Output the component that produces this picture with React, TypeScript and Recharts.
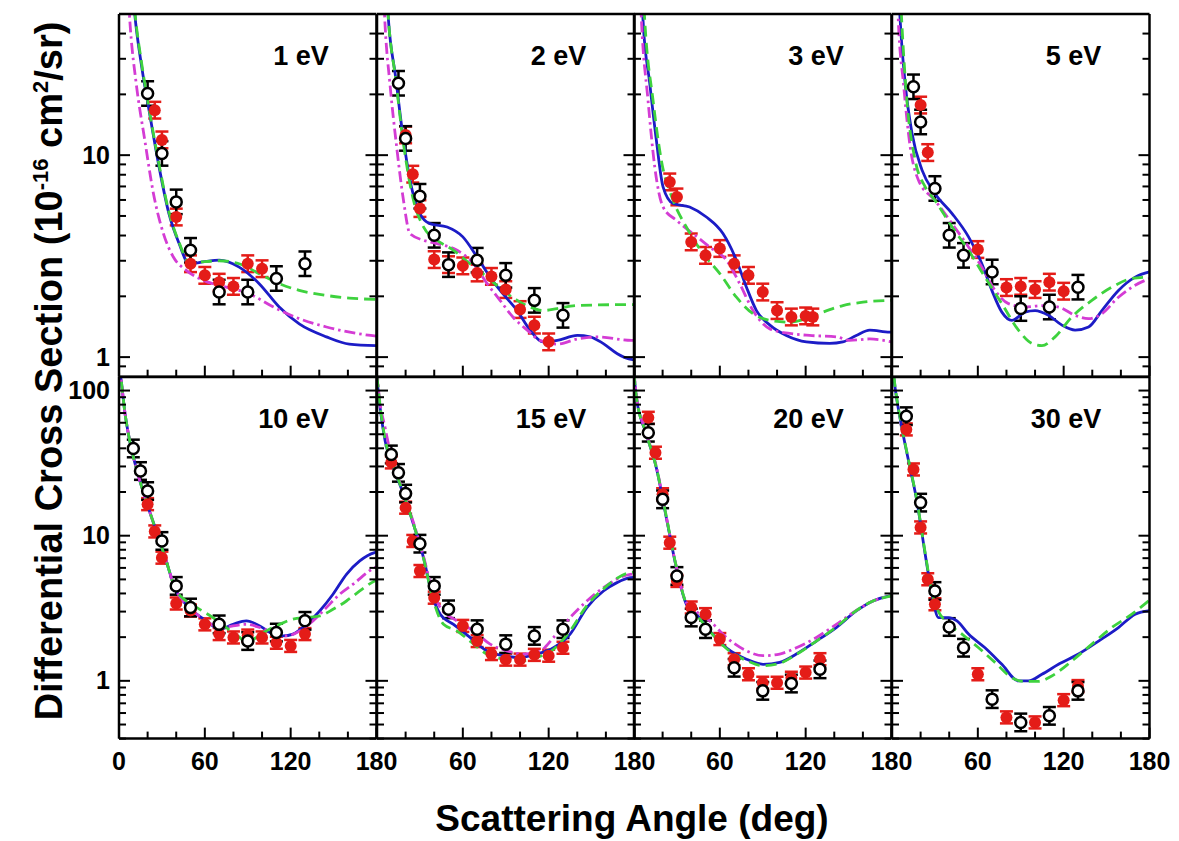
import React from "react"
import { ComposedChart, XAxis, YAxis, Line, Scatter, ErrorBar } from "recharts"

type P = [number, number]

// 1 eV
const blue1: P[] = [[4, 300], [8, 90], [11, 50], [16, 27], [21, 16.7], [28, 8.75], [35, 5.1], [42, 3.65], [49, 2.9], [60, 2.97], [70, 3.02], [84, 2.79], [98, 2.31], [112, 1.77], [126, 1.46], [145, 1.26], [161, 1.16], [180, 1.14]]
const green1: P[] = [[4, 300], [8, 95], [11, 52], [16, 28], [21, 17], [28, 9], [35, 5.2], [42, 3.7], [49, 2.95], [60, 2.97], [70, 3.0], [84, 2.9], [98, 2.59], [112, 2.31], [126, 2.14], [145, 2.02], [161, 1.96], [180, 1.93]]
const magenta1: P[] = [[3, 200], [6, 70], [8, 42], [12, 22.7], [18, 11.9], [24, 6.5], [31, 4.1], [38, 3.13], [47, 2.69], [59, 2.4], [75, 2.22], [91, 2.06], [108, 1.77], [126, 1.55], [145, 1.41], [176, 1.28], [180, 1.27]]
const black1: P[] = [[20, 20.2], [30, 10.2], [40, 5.87], [50, 3.38], [70, 2.1], [90, 2.1], [110, 2.45], [130, 2.9]]
const red1: P[] = [[25, 16.7], [30, 11.9], [40, 4.94], [50, 2.9], [60, 2.54], [70, 2.35], [80, 2.24], [90, 2.9], [100, 2.74]]

// 2 eV
const blue2: P[] = [[3, 250], [6, 80], [8, 46.7], [13, 24.4], [18.5, 11.9], [24, 7.0], [30, 5.14], [37, 4.58], [49, 4.41], [60, 3.94], [70, 3.13], [79, 2.49], [88, 2.06], [98, 1.7], [107, 1.36], [116, 1.19], [126, 1.21], [140, 1.28], [149, 1.26], [158, 1.17], [168, 1.04], [176, 0.98], [180, 0.97]]
const green2: P[] = [[3, 250], [6, 80], [8, 47], [13, 24], [18.5, 11.4], [25.5, 5.98], [32.5, 4.41], [42, 3.79], [53.5, 3.38], [65, 2.9], [77, 2.49], [88, 2.14], [98, 1.91], [107, 1.77], [116, 1.7], [126, 1.74], [140, 1.8], [176, 1.82], [180, 1.82]]
const magenta2: P[] = [[2, 200], [4, 80], [5.7, 43.3], [9, 22.7], [14, 10.6], [18.5, 5.98], [23, 4.09], [32.5, 3.79], [42, 3.65], [56, 3.38], [67.5, 2.9], [77, 2.31], [86, 1.91], [95, 1.58], [105, 1.36], [114, 1.21], [126, 1.16], [140, 1.23], [154, 1.26], [178, 1.21], [180, 1.21]]
const black2: P[] = [[15, 22.7], [20, 12.1], [30, 6.26], [40, 4.01], [50, 2.87], [70, 3.02], [90, 2.54], [110, 1.91], [130, 1.61]]
const red2: P[] = [[20, 12.6], [25, 8.05], [30, 5.44], [40, 3.04], [50, 2.87], [60, 2.83], [70, 2.61], [80, 2.51], [90, 2.16], [100, 1.72], [110, 1.44], [120, 1.19]]

// 3 eV
const blue3: P[] = [[3, 200], [6.3, 46.7], [11, 22.7], [15.6, 11.9], [20.3, 6.97], [27.3, 5.76], [38.9, 5.54], [50.6, 4.94], [62.2, 4.09], [71.6, 3.02], [78.6, 2.22], [85.6, 1.7], [95, 1.44], [106.5, 1.28], [120.5, 1.19], [136.8, 1.17], [146, 1.19], [155.4, 1.28], [164.8, 1.36], [178.7, 1.33], [180, 1.33]]
const green3: P[] = [[3, 250], [7.5, 46.7], [13.3, 18.7], [19.1, 9.44], [27.3, 5.98], [36.6, 4.41], [48.2, 3.26], [60, 2.59], [71.6, 1.98], [83.2, 1.64], [95, 1.52], [108.8, 1.49], [120.5, 1.55], [132, 1.67], [146, 1.8], [160, 1.87], [180, 1.91]]
const magenta3: P[] = [[2, 200], [5.2, 46.7], [9.8, 18.7], [14.5, 8.75], [20.3, 5.54], [29.6, 4.76], [41.2, 4.09], [52.9, 3.51], [64.6, 3.02], [73.9, 2.31], [83.2, 1.7], [95, 1.38], [108.8, 1.31], [122.8, 1.28], [141.4, 1.26], [150.7, 1.21], [164.8, 1.23], [180, 1.19]]
const red3: P[] = [[25, 7.37], [30, 6.21], [40, 3.72], [50, 3.19], [60, 3.45], [70, 2.9], [80, 2.54], [90, 2.1], [100, 1.7], [110, 1.58], [120, 1.6], [125, 1.58]]

// 5 eV
const blue5: P[] = [[2, 200], [5.7, 46.7], [9.2, 22.7], [14, 12.8], [21, 8.43], [30, 6.46], [42, 5.14], [53.5, 3.94], [62.8, 2.9], [69.8, 2.14], [76.8, 1.67], [83.8, 1.52], [93, 1.67], [100, 1.7], [109.4, 1.61], [118.8, 1.44], [128, 1.36], [137.4, 1.41], [146.7, 1.7], [158.3, 2.14], [170, 2.49], [180, 2.64]]
const green5: P[] = [[3, 200], [6, 60], [10.4, 18.7], [16.2, 9.44], [23.2, 6.97], [30, 5.98], [42, 4.41], [53.5, 3.38], [65, 2.49], [76.8, 1.84], [88.4, 1.36], [97.8, 1.17], [104.8, 1.14], [114, 1.26], [125.7, 1.58], [139.7, 1.91], [153.7, 2.22], [167.7, 2.45], [180, 2.49]]
const magenta5: P[] = [[2, 150], [4.5, 45], [8, 22.7], [12.7, 11.0], [18.5, 7.52], [30, 5.98], [42, 4.58], [53.5, 3.51], [62.8, 2.79], [72, 2.14], [81.4, 1.84], [93, 1.77], [104.8, 1.8], [116.4, 1.77], [128, 1.61], [137.4, 1.55], [146.7, 1.64], [158.3, 1.98], [170, 2.27], [180, 2.45]]
const black5: P[] = [[15, 21.8], [20, 14.6], [30, 6.84], [40, 4.01], [50, 3.19], [70, 2.64], [90, 1.74], [110, 1.77], [130, 2.22]]
const red5: P[] = [[20, 17.7], [25, 10.3], [60, 3.41], [80, 2.21], [90, 2.24], [100, 2.16], [110, 2.35], [120, 2.12]]

// 10 eV
const blue10: P[] = [[0, 150], [1.6, 116], [4, 72], [7.5, 44.9], [12, 29.4], [19, 17.3], [26, 10.8], [33, 6.7], [39, 4.39], [44.7, 3.55], [51.7, 3.03], [61, 2.59], [70.4, 2.27], [79.7, 2.45], [89, 2.59], [98.4, 2.39], [107.7, 2.1], [114.7, 2.04], [121.6, 2.1], [131, 2.45], [140.3, 3.03], [149.6, 3.95], [159, 5.42], [168.3, 6.7], [178.7, 7.64], [180, 7.7]]
const green10: P[] = [[0, 150], [1.6, 116], [4, 72], [7.5, 45], [12, 29.4], [19, 17.3], [26, 10.8], [33, 6.7], [39, 4.4], [47, 3.55], [56.4, 3.11], [65.7, 2.73], [75, 2.33], [84.4, 1.99], [89, 1.83], [96, 1.99], [103, 2.21], [112.3, 2.45], [121.6, 2.66], [131, 2.73], [140.3, 2.8], [149.6, 3.11], [159, 3.55], [168.3, 4.16], [178.7, 4.88], [180, 4.95]]
const magenta10: P[] = [[0, 150], [1.6, 116], [4, 72], [7.5, 45], [12, 29.4], [19, 17.3], [26, 10.8], [33, 6.7], [39, 4.39], [44.7, 3.55], [51.7, 3.03], [61, 2.59], [70.4, 2.33], [89, 2.45], [98.4, 2.33], [107.7, 2.15], [117, 2.04], [126.3, 2.21], [135.6, 2.59], [145, 3.2], [154.3, 3.95], [163.6, 4.63], [178.7, 6.02], [180, 6.1]]
const black10: P[] = [[10, 39.9], [15, 27.9], [20, 20.3], [30, 9.2], [40, 4.51], [50, 3.2], [70, 2.45], [90, 1.88], [110, 2.15], [130, 2.59]]
const red10: P[] = [[20, 16.5], [25, 10.7], [30, 7.06], [40, 3.41], [50, 3.05], [60, 2.45], [70, 2.1], [80, 1.99], [90, 2.05], [100, 1.99], [110, 1.83], [120, 1.74], [130, 2.1]]

// 15 eV
const blue15: P[] = [[0, 120], [2.2, 76], [5.7, 44.9], [11.6, 29.4], [18.5, 19.3], [25.5, 12], [32.5, 7.06], [38.4, 3.95], [44.2, 2.88], [53.5, 2.45], [65, 1.99], [76.8, 1.61], [88.4, 1.49], [100, 1.45], [111.7, 1.53], [123.4, 1.69], [135, 2.1], [146.7, 3.2], [158.3, 4.16], [167.7, 4.75], [177, 5.14], [180, 5.16]]
const green15: P[] = [[0, 125], [2.2, 78], [5.7, 46], [11.6, 30], [18.5, 19.5], [25.5, 12], [32.5, 7.0], [38.4, 3.9], [46.5, 2.45], [55.8, 2.21], [65, 1.88], [76.8, 1.53], [88.4, 1.41], [100, 1.37], [111.7, 1.45], [123.4, 1.65], [135, 2.21], [146.7, 3.3], [158.3, 4.3], [177, 5.57], [180, 5.6]]
const magenta15: P[] = [[0, 140], [1, 104], [5.7, 55.3], [11.6, 31], [18.5, 20], [25.5, 12.3], [32.5, 7.2], [38.4, 4.3], [44.2, 3.2], [55.8, 2.59], [67.5, 2.21], [79.1, 1.79], [90.7, 1.61], [102.4, 1.53], [114.1, 1.61], [123.4, 1.99], [135, 2.73], [146.7, 3.55], [158.3, 4.39], [177, 5.42], [180, 5.45]]
const black15: P[] = [[10, 36.3], [15, 27.1], [20, 19.5], [30, 8.81], [40, 4.51], [50, 3.11], [70, 2.27], [90, 1.79], [110, 2.04], [130, 2.27]]
const red15: P[] = [[10, 32], [20, 15.6], [25, 9.2], [30, 5.71], [40, 3.74], [60, 2.39], [70, 1.88], [80, 1.53], [90, 1.4], [100, 1.4], [110, 1.51], [120, 1.49], [130, 1.69]]

// 20 eV
const blue20: P[] = [[0, 130], [1.7, 89], [8.7, 49.9], [15.6, 29.4], [22.6, 13.3], [29.6, 6.02], [36.6, 3.37], [43.6, 2.88], [52.9, 2.21], [64.6, 1.69], [78.6, 1.41], [90.2, 1.3], [101.8, 1.34], [113.5, 1.53], [127.5, 1.88], [141.4, 2.33], [155.4, 3.03], [167.1, 3.55], [178.7, 3.85], [180, 3.87]]
const green20: P[] = [[0, 130], [1.7, 90], [8.7, 50], [15.6, 29.5], [22.6, 13.5], [29.6, 6.1], [36.6, 3.4], [43.6, 2.85], [52.9, 2.2], [64.6, 1.67], [78.6, 1.38], [90.2, 1.27], [101.8, 1.32], [113.5, 1.52], [127.5, 1.88], [141.4, 2.35], [155.4, 3.05], [167.1, 3.55], [180, 3.85]]
const magenta20: P[] = [[0, 135], [1.7, 92], [8.7, 51], [15.6, 30], [22.6, 13.5], [29.6, 6.1], [36.6, 3.45], [43.6, 3.0], [52.9, 2.59], [64.6, 1.99], [78.6, 1.61], [90.2, 1.49], [101.8, 1.53], [113.5, 1.69], [127.5, 1.99], [141.4, 2.45], [155.4, 3.05], [167.1, 3.55], [180, 3.85]]
const black20: P[] = [[10, 51.2], [20, 17.8], [30, 5.28], [40, 2.73], [50, 2.27], [70, 1.23], [90, 0.853], [110, 0.958], [130, 1.2]]
const red20: P[] = [[10, 64.9], [15, 37.3], [20, 19.3], [25, 8.95], [30, 4.88], [40, 3.2], [50, 2.88], [60, 1.94], [70, 1.41], [80, 1.11], [90, 0.97], [100, 0.97], [110, 1.05], [120, 1.14], [130, 1.41]]

// 30 eV (no dash-dot curve)
const blue30: P[] = [[0, 160], [2.2, 104], [6.9, 55.3], [11.6, 32.7], [17.4, 17.3], [23.2, 7.45], [27.9, 3.95], [32.5, 2.73], [39.5, 2.73], [45.4, 2.59], [53.5, 2.1], [65, 1.69], [76.8, 1.3], [88.4, 1.0], [95.4, 1.0], [104.8, 1.11], [116.4, 1.3], [130.4, 1.53], [144.4, 1.88], [158.3, 2.33], [170, 2.88], [180, 3.05]]
const green30: P[] = [[0, 165], [2.2, 106], [6.9, 56], [11.6, 33], [17.4, 17.5], [23.2, 7.6], [27.9, 4.1], [32.5, 3.0], [37.2, 2.59], [48.9, 2.1], [60.5, 1.69], [72, 1.34], [83.8, 1.05], [93, 0.99], [102.4, 0.99], [111.7, 1.08], [125.7, 1.37], [139.7, 1.79], [153.7, 2.33], [167.7, 2.88], [180, 3.6]]
const black30: P[] = [[10, 66.6], [20, 16.9], [30, 4.16], [40, 2.35], [50, 1.69], [70, 0.748], [90, 0.517], [110, 0.574], [130, 0.853]]
const red30: P[] = [[10, 54], [15, 28.6], [20, 11.4], [25, 5.01], [30, 3.37], [60, 1.11], [80, 0.56], [100, 0.517], [120, 0.736], [130, 0.92]]

const X_TICKS = [0, 20, 40, 60, 80, 100, 120, 140, 160, 180]
const X_LABELS = [0, 60, 120, 180]
const Y_TICKS_TOP = [0.9, 1, 2, 3, 4, 5, 6, 7, 8, 9, 10, 20, 30, 40]
const Y_TICKS_BOTTOM = [0.4, 0.5, 0.6, 0.7, 0.8, 0.9, 1, 2, 3, 4, 5, 6, 7, 8, 9, 10, 20, 30, 40, 50, 60, 70, 80, 90, 100]
const Y_LABELS = [1, 10, 100]

// relative error bar size of each data set
const ERR_OPEN = 0.15
const ERR_RED = 0.1

const PANELS = [
    { label: "1 eV", row: 0, col: 0, blue: blue1, green: green1, magenta: magenta1, black: black1, red: red1 },
    { label: "2 eV", row: 0, col: 1, blue: blue2, green: green2, magenta: magenta2, black: black2, red: red2 },
    { label: "3 eV", row: 0, col: 2, blue: blue3, green: green3, magenta: magenta3, black: [] as P[], red: red3 },
    { label: "5 eV", row: 0, col: 3, blue: blue5, green: green5, magenta: magenta5, black: black5, red: red5 },
    { label: "10 eV", row: 1, col: 0, blue: blue10, green: green10, magenta: magenta10, black: black10, red: red10 },
    { label: "15 eV", row: 1, col: 1, blue: blue15, green: green15, magenta: magenta15, black: black15, red: red15 },
    { label: "20 eV", row: 1, col: 2, blue: blue20, green: green20, magenta: magenta20, black: black20, red: red20 },
    { label: "30 eV", row: 1, col: 3, blue: blue30, green: green30, magenta: null, black: black30, red: red30 },
]

const COLORS = { blue: "#1c1cc6", green: "#3ed23e", magenta: "#d43cd4", red: "#e41c18" }
const FONT = '"Liberation Sans", Arial, Helvetica, sans-serif'

const LEFT0 = 119.3
const PW = 257.5
const PAD = 60
const ROWS = [
    { top: 14, h: 362.7, domain: [0.8, 50], ticks: Y_TICKS_TOP },
    { top: 376.7, h: 361.6, domain: [0.4, 124], ticks: Y_TICKS_BOTTOM },
]

const toPts = (a: P[]) => a.map(([x, y]) => ({ x, y }))
const toErr = (a: P[], r: number) => a.map(([x, y]) => ({ x, y, err: [y - y / (1 + r), y * r] }))

// inward tick marks on every side; labels only where asked
function Tick(props: any) {
    const { x, y, payload, side, showLabel } = props
    const v = payload.value
    const horiz = side === "bottom" || side === "top"
    const major = horiz ? X_LABELS.includes(v) : Y_LABELS.includes(v)
    const len = major ? 11 : 7
    let x2 = x
    let y2 = y
    if (side === "bottom") y2 = y - len
    if (side === "top") y2 = y + len
    if (side === "left") x2 = x + len
    if (side === "right") x2 = x - len
    const label = major && showLabel && showLabel(v)
    return (
        <g>
            <line x1={x} y1={y} x2={x2} y2={y2} stroke="#000" strokeWidth={2} />
            {label && side === "bottom" && (
                <text x={x} y={y + 31} textAnchor="middle" fontSize={25} fontWeight="bold" fontFamily={FONT} fill="#000">
                    {v}
                </text>
            )}
            {label && side === "left" && (
                <text x={x - 9} y={y + 8.5} textAnchor="end" fontSize={25} fontWeight="bold" fontFamily={FONT} fill="#000">
                    {v}
                </text>
            )}
        </g>
    )
}

const OpenDot = (p: any) => <circle cx={p.cx} cy={p.cy} r={5.5} fill="#fff" stroke="#000" strokeWidth={2.5} />
const RedDot = (p: any) => <circle cx={p.cx} cy={p.cy} r={6} fill={COLORS.red} />

const AXIS_LINE = { stroke: "#000", strokeWidth: 2.5 }
// axes need a non-zero size to be drawn; 1px each, taken back from the margin
const AX = 1

function Panel({ panel }: { panel: (typeof PANELS)[number] }) {
    const row = ROWS[panel.row]
    const left = LEFT0 + panel.col * PW
    const xLabel = panel.row === 1 ? (v: number) => panel.col === 0 || v !== 0 : undefined
    const yLabel = panel.col === 0 ? () => true : undefined
    const m = PAD - AX
    return (
        <div style={{ position: "absolute", left: left - PAD, top: row.top - PAD }}>
            <ComposedChart width={PW + 2 * PAD} height={row.h + 2 * PAD} margin={{ top: m, right: m, bottom: m, left: m }}>
                <XAxis xAxisId="b" dataKey="x" type="number" domain={[0, 180]} allowDataOverflow ticks={X_TICKS} interval={0}
                    height={AX} tickSize={0} tickMargin={0} tickLine={false} axisLine={AXIS_LINE}
                    tick={<Tick side="bottom" showLabel={xLabel} />} />
                <XAxis xAxisId="t" orientation="top" type="number" domain={[0, 180]} allowDataOverflow ticks={X_TICKS} interval={0}
                    height={AX} tickSize={0} tickMargin={0} tickLine={false} axisLine={AXIS_LINE}
                    tick={<Tick side="top" />} />
                <YAxis yAxisId="l" dataKey="y" scale="log" type="number" domain={row.domain} allowDataOverflow ticks={row.ticks} interval={0}
                    width={AX} tickSize={0} tickMargin={0} tickLine={false} axisLine={AXIS_LINE}
                    tick={<Tick side="left" showLabel={yLabel} />} />
                <YAxis yAxisId="r" orientation="right" scale="log" type="number" domain={row.domain} allowDataOverflow ticks={row.ticks} interval={0}
                    width={AX} tickSize={0} tickMargin={0} tickLine={false} axisLine={AXIS_LINE}
                    tick={<Tick side="right" />} />

                <Scatter xAxisId="b" yAxisId="l" data={toErr(panel.red, ERR_RED)} dataKey="y" shape={RedDot} isAnimationActive={false}>
                    <ErrorBar dataKey="err" direction="y" width={6.5} stroke={COLORS.red} strokeWidth={2.5} isAnimationActive={false} />
                </Scatter>
                <Scatter xAxisId="b" yAxisId="l" data={toErr(panel.black, ERR_OPEN)} dataKey="y" shape={OpenDot} isAnimationActive={false}>
                    <ErrorBar dataKey="err" direction="y" width={6.5} stroke="#000" strokeWidth={2.5} isAnimationActive={false} />
                </Scatter>

                <Line xAxisId="b" yAxisId="l" data={toPts(panel.blue)} dataKey="y" type="monotone" stroke={COLORS.blue}
                    strokeWidth={2.8} dot={false} activeDot={false} isAnimationActive={false} />
                {panel.magenta && (
                    <Line xAxisId="b" yAxisId="l" data={toPts(panel.magenta)} dataKey="y" type="monotone" stroke={COLORS.magenta}
                        strokeWidth={2.8} strokeDasharray="11 4 2.5 4" dot={false} activeDot={false} isAnimationActive={false} />
                )}
                <Line xAxisId="b" yAxisId="l" data={toPts(panel.green)} dataKey="y" type="monotone" stroke={COLORS.green}
                    strokeWidth={2.8} strokeDasharray="11 6" dot={false} activeDot={false} isAnimationActive={false} />
            </ComposedChart>
            <div style={{
                position: "absolute", left: PAD, top: PAD + 29, width: PW - 48, textAlign: "right",
                fontFamily: FONT, fontWeight: "bold", fontSize: 27, lineHeight: "27px", color: "#000",
            }}>
                {panel.label}
            </div>
        </div>
    )
}

export default function App() {
    return (
        <div style={{ position: "absolute", left: 0, top: 0, width: 1179, height: 841, background: "#fff", overflow: "hidden" }}>
            {PANELS.map((p) => <Panel key={p.label} panel={p} />)}
            <div style={{
                position: "absolute", left: 41 - 400, top: 371 - 22, width: 800, height: 44, lineHeight: "44px",
                textAlign: "center", transform: "rotate(-90deg)", fontFamily: FONT, fontWeight: "bold", fontSize: 38, whiteSpace: "nowrap",
            }}>
                Differential Cross Section (10<sup style={{ fontSize: 22 }}>-16</sup> cm<sup style={{ fontSize: 22 }}>2</sup>/sr)
            </div>
            <div style={{
                position: "absolute", left: 632 - 300, top: 797, width: 600, height: 44, lineHeight: "44px",
                textAlign: "center", fontFamily: FONT, fontWeight: "bold", fontSize: 37, whiteSpace: "nowrap",
            }}>
                Scattering Angle (deg)
            </div>
        </div>
    )
}
